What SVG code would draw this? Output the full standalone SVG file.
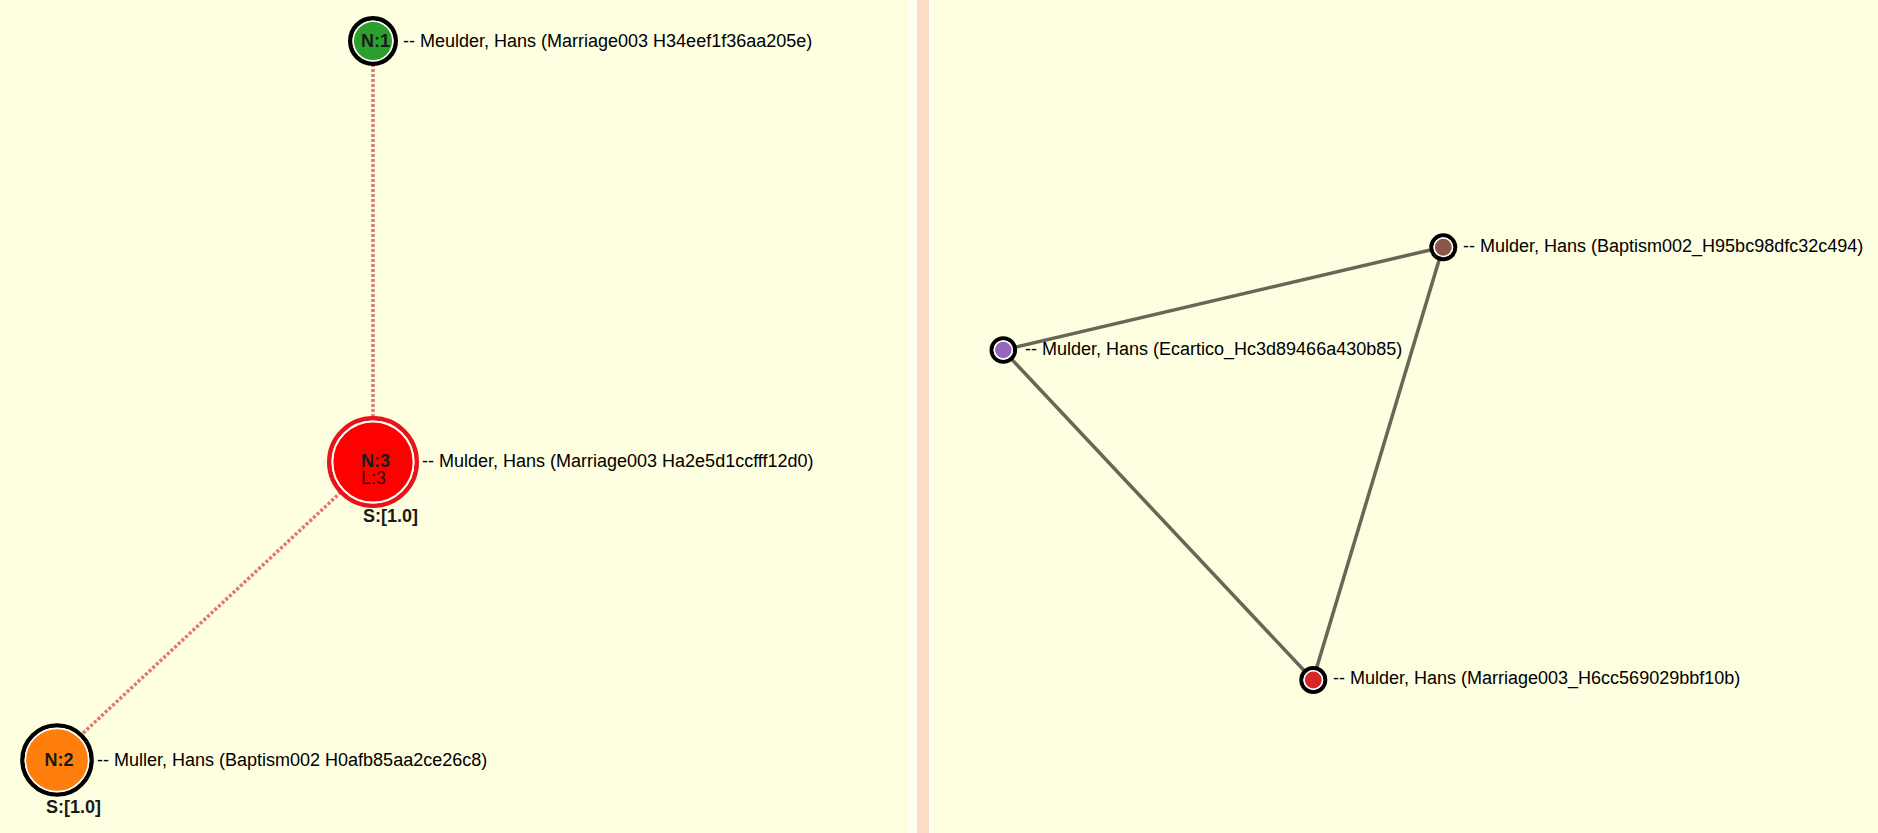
<svg xmlns="http://www.w3.org/2000/svg" width="1878" height="833" viewBox="0 0 1878 833">
<style>
.lbl{font-family:"Liberation Sans",Arial,sans-serif;font-size:18px;fill:#000}
.nid{font-family:"Liberation Sans",Arial,sans-serif;font-size:18px;font-weight:bold;fill:#1a1a1a}
.lvl{font-family:"Liberation Sans",Arial,sans-serif;font-size:18px;fill:#000;fill-opacity:0.75}
.ring{fill:none;stroke:#000}
.inner{stroke:#fff;stroke-width:1.5}
.dash{stroke:#e4776e;stroke-width:3.5;stroke-dasharray:3 2;fill:none}
.solid{stroke:#676756;stroke-width:3.5;fill:none}
</style>
<rect x="0" y="0" width="1878" height="833" fill="#fefee0"/>
<rect x="907" y="0" width="10" height="833" fill="#fffff0"/>
<rect x="917" y="0" width="12" height="833" fill="#fddcc6"/>
<rect x="929" y="0" width="4" height="833" fill="#fffff2"/>
<g id="connectors">
<line class="dash" x1="373" y1="64" x2="373" y2="418"/>
<line class="dash" x1="341" y1="492" x2="80" y2="736"/>
<line class="solid" x1="1003" y1="350" x2="1443" y2="247"/>
<line class="solid" x1="1003" y1="350" x2="1313" y2="680"/>
<line class="solid" x1="1443" y1="247" x2="1313" y2="680"/>
</g>
<g id="n1">
<circle class="ring" cx="373" cy="41" r="22.8" stroke-width="4.4"/>
<circle class="inner" cx="373" cy="41" r="19.8" fill="#2ca02c"/>
<text class="nid" x="361" y="46.5">N:1</text>
<text class="lbl" x="403" y="46.5">-- Meulder, Hans (Marriage003 H34eef1f36aa205e)</text>
</g>
<g id="n3">
<circle cx="373" cy="462" r="43.8" fill="none" stroke="#e8141c" stroke-width="4.4"/>
<circle cx="373" cy="462" r="40.5" fill="#ff0000" stroke="#fff" stroke-width="1.8"/>
<text class="nid" x="361" y="467">N:3</text>
<text class="lvl" x="361" y="484">L:3</text>
<text class="nid" x="363" y="522">S:[1.0]</text>
<text class="lbl" x="422" y="466.5">-- Mulder, Hans (Marriage003 Ha2e5d1ccfff12d0)</text>
</g>
<g id="n2">
<circle class="ring" cx="57" cy="760" r="34.6" stroke-width="4.4"/>
<circle class="inner" cx="57" cy="760" r="31.6" fill="#ff7f0e"/>
<text class="nid" x="44.5" y="766">N:2</text>
<text class="nid" x="46" y="812.5">S:[1.0]</text>
<text class="lbl" x="97" y="765.5">-- Muller, Hans (Baptism002 H0afb85aa2ce26c8)</text>
</g>
<g id="ecartico">
<circle class="ring" cx="1003.3" cy="350" r="11.8" stroke-width="4"/>
<circle class="inner" cx="1003.3" cy="350" r="9" fill="#9467bd"/>
<text class="lbl" x="1025" y="355">-- Mulder, Hans (Ecartico_Hc3d89466a430b85)</text>
</g>
<g id="baptism">
<circle class="ring" cx="1443.3" cy="247.3" r="12" stroke-width="4"/>
<circle class="inner" cx="1443.3" cy="247.3" r="9.2" fill="#8c564b"/>
<text class="lbl" x="1463" y="252">-- Mulder, Hans (Baptism002_H95bc98dfc32c494)</text>
</g>
<g id="marriage">
<circle class="ring" cx="1313.3" cy="680" r="12" stroke-width="4"/>
<circle class="inner" cx="1313.3" cy="680" r="9.2" fill="#d62728"/>
<text class="lbl" x="1333" y="683.5">-- Mulder, Hans (Marriage003_H6cc569029bbf10b)</text>
</g>
</svg>
